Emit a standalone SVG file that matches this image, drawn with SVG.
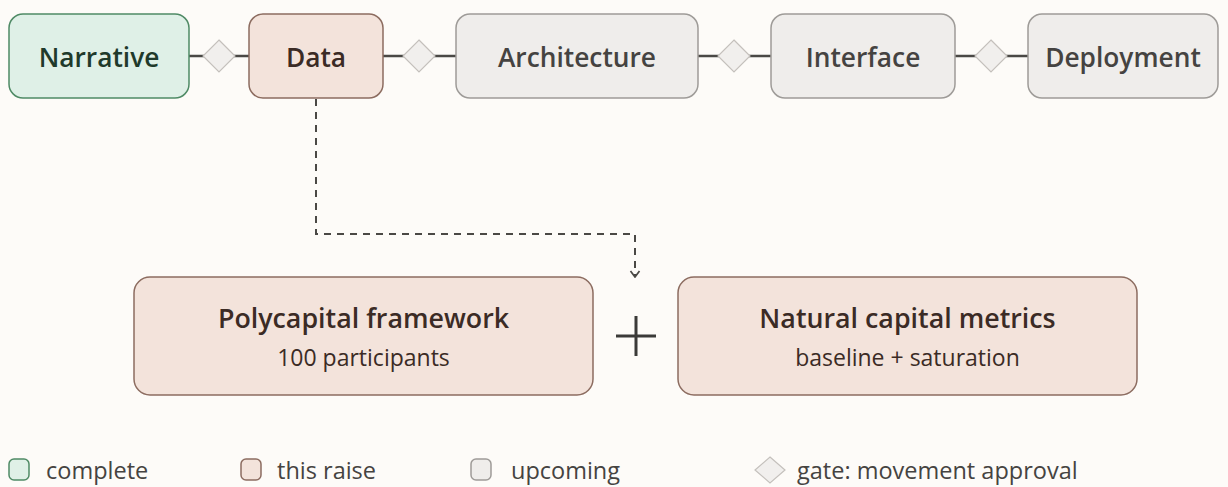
<svg xmlns="http://www.w3.org/2000/svg" width="1228" height="487" viewBox="0 0 1228 487">
  <defs>
    <style>
      text { font-family: "Open Sans", "Noto Sans", "Liberation Sans", sans-serif; }
      .stage { stroke-width: 1.5; }
      .done { fill: #dff0e7; stroke: #4f8a65; }
      .raise { fill: #f3e3db; stroke: #8c6c60; }
      .next { fill: #efedeb; stroke: #9e9b98; }
      .lbl { font-size: 26.3px; font-weight: 600; text-anchor: middle; }
      .title { font-size: 26.8px; }
      .t-done { fill: #1f3a2b; }
      .t-raise { fill: #3b2b25; }
      .t-next { fill: #454341; }
      .gate { fill: #f1efed; stroke: #c4c0bc; stroke-width: 1.2; }
      .link { stroke: #4a4845; stroke-width: 2.5; fill: none; }
      .dash { stroke: #4a4845; stroke-width: 2; fill: none; stroke-dasharray: 7 6; }
      .sub { font-size: 23px; font-weight: 400; text-anchor: middle; fill: #3b2b25; }
      .leg { font-size: 23.5px; fill: #454341; }
    </style>
    <marker id="arrow" viewBox="0 0 10 12" refX="9" refY="6" markerWidth="10" markerHeight="12" markerUnits="userSpaceOnUse" orient="auto">
      <path d="M3,1.5 L9,6 L3,10.5" fill="none" stroke="#4a4845" stroke-width="1.7"/>
    </marker>
  </defs>

  <rect width="1228" height="487" fill="#fdfbf8"/>

  <!-- connectors -->
  <g id="connectors">
    <line class="link" x1="189" y1="56" x2="249" y2="56"/>
    <line class="link" x1="383" y1="56" x2="456" y2="56"/>
    <line class="link" x1="698" y1="56" x2="771" y2="56"/>
    <line class="link" x1="955" y1="56" x2="1028" y2="56"/>
    <path class="dash" d="M316,99 V234 H635 V277" marker-end="url(#arrow)"/>
  </g>

  <!-- gates -->
  <g id="gates">
    <polygon class="gate" points="219,40 235,56 219,72 203,56"/>
    <polygon class="gate" points="419,40 435,56 419,72 403,56"/>
    <polygon class="gate" points="734,40 750,56 734,72 718,56"/>
    <polygon class="gate" points="991,40 1007,56 991,72 975,56"/>
  </g>

  <g id="narrative">
    <rect class="stage done" x="9" y="14" width="180" height="84" rx="14"/>
    <text class="lbl t-done" x="99" y="67">Narrative</text>
  </g>
  <g id="data">
    <rect class="stage raise" x="249" y="14" width="134" height="84" rx="14"/>
    <text class="lbl t-raise" x="316" y="67">Data</text>
  </g>
  <g id="architecture">
    <rect class="stage next" x="456" y="14" width="242" height="84" rx="14"/>
    <text class="lbl t-next" x="577" y="67">Architecture</text>
  </g>
  <g id="interface">
    <rect class="stage next" x="771" y="14" width="184" height="84" rx="14"/>
    <text class="lbl t-next" x="863" y="67">Interface</text>
  </g>
  <g id="deployment">
    <rect class="stage next" x="1028" y="14" width="190" height="84" rx="14"/>
    <text class="lbl t-next" x="1123" y="67">Deployment</text>
  </g>

  <g id="polycapital">
    <rect class="stage raise" x="134" y="277" width="459" height="118" rx="16"/>
    <text class="lbl title t-raise" x="363.5" y="328">Polycapital framework</text>
    <text class="sub" x="363.5" y="366">100 participants</text>
  </g>
  <g id="plus">
    <path d="M636,316 V356 M616,336 H656" stroke="#3b3a38" stroke-width="3" fill="none"/>
  </g>
  <g id="natural-capital">
    <rect class="stage raise" x="678" y="277" width="459" height="118" rx="16"/>
    <text class="lbl title t-raise" x="907.5" y="328">Natural capital metrics</text>
    <text class="sub" x="907.5" y="366">baseline + saturation</text>
  </g>

  <!-- legend -->
  <g id="legend">
    <rect class="done" x="9" y="459" width="20" height="21" rx="5" stroke-width="1.5"/>
    <text class="leg" x="46" y="479">complete</text>
    <rect class="raise" x="241" y="459" width="20" height="21" rx="5" stroke-width="1.5"/>
    <text class="leg" x="277" y="479">this raise</text>
    <rect class="next" x="471" y="459" width="20" height="21" rx="5" stroke-width="1.5"/>
    <text class="leg" x="511" y="479">upcoming</text>
    <polygon class="gate" points="770,457 785,470 770,483 755,470"/>
    <text class="leg" x="797" y="479">gate: movement approval</text>
  </g>
</svg>
